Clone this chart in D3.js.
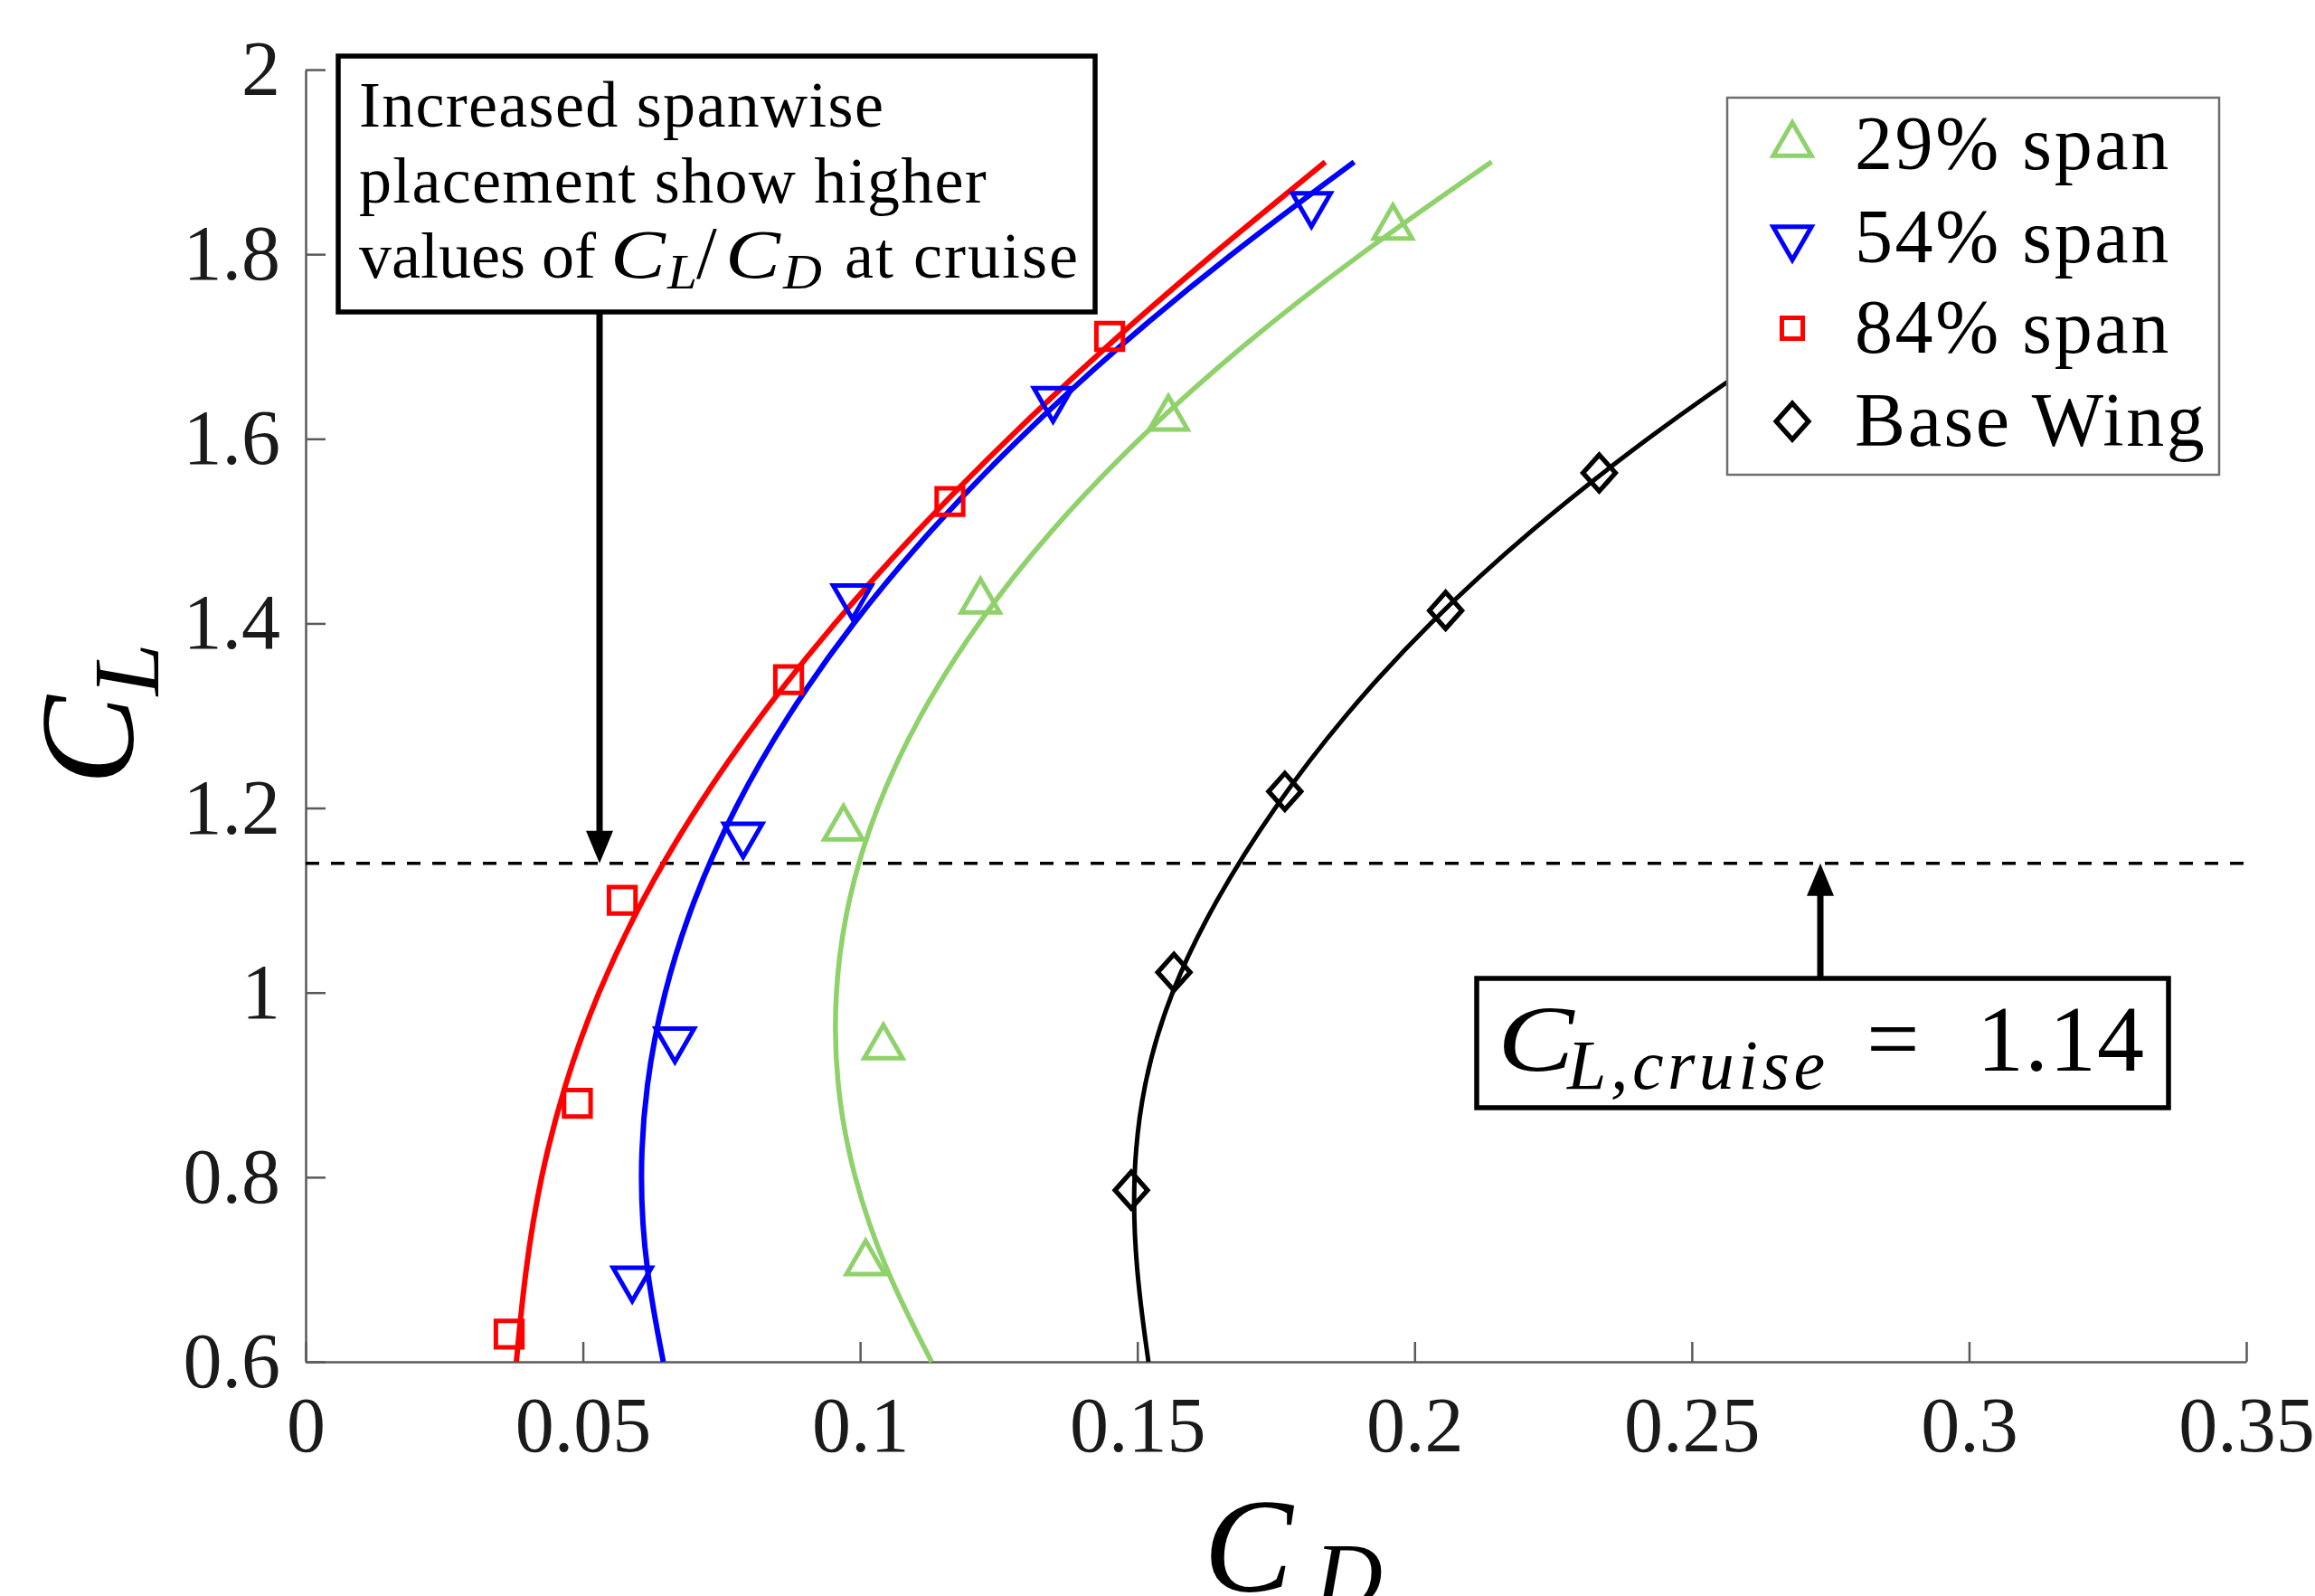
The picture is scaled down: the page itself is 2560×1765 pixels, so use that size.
<!DOCTYPE html>
<html><head><meta charset="utf-8">
<script src="https://cdn.jsdelivr.net/npm/d3@7"></script>
<style>html,body{margin:0;padding:0;background:#fff;} svg{display:block;}</style>
</head><body>
<svg id="chart" width="2560" height="1765"></svg>
<script>
// ---------------- data ----------------
const seriesNames = ["29% span", "54% span", "84% span", "Base Wing"];

// measured points (CD, CL)
const cd29 = [0.1010, 0.1042, 0.0970, 0.1217, 0.1556, 0.1961];
const cl29 = [0.707, 0.941, 1.178, 1.424, 1.622, 1.829];
const cd54 = [0.0589, 0.0666, 0.0789, 0.0986, 0.1348, 0.1814];
const cl54 = [0.690, 0.949, 1.171, 1.429, 1.643, 1.854];
const cd84 = [0.0367, 0.0490, 0.0571, 0.0871, 0.1162, 0.1450];
const cl84 = [0.630, 0.880, 1.100, 1.339, 1.532, 1.711];
const cdBase = [0.1489, 0.1566, 0.1766, 0.2056, 0.2333];
const clBase = [0.786, 1.022, 1.218, 1.414, 1.563];

// fitted curves at these CL values
const fitCL   = [0.6, 0.7, 0.8, 0.9, 1.0, 1.1, 1.2, 1.3, 1.4, 1.5, 1.6, 1.7, 1.8, 1.9];
const fit29   = [0.1129, 0.1044, 0.0987, 0.0956, 0.0953, 0.0976, 0.1027, 0.1105, 0.1210, 0.1341, 0.1500, 0.1686, 0.1899, 0.2139];
const fit54   = [0.0645, 0.0613, 0.0602, 0.0613, 0.0645, 0.0698, 0.0772, 0.0868, 0.0985, 0.1124, 0.1284, 0.1465, 0.1667, 0.1891];
const fit84   = [0.0380, 0.0396, 0.0423, 0.0466, 0.0526, 0.0605, 0.0703, 0.0819, 0.0952, 0.1101, 0.1265, 0.1443, 0.1635, 0.1839];
const fitBase = [0.1520, 0.1497, 0.1491, 0.1509, 0.1558, 0.1640, 0.1745, 0.1872, 0.2024, 0.2206, 0.2416, 0.2654, 0.2921, 0.3216];

const xTicks = [0, 0.05, 0.1, 0.15, 0.2, 0.25, 0.3, 0.35];
const xTickLabels = ["0", "0.05", "0.1", "0.15", "0.2", "0.25", "0.3", "0.35"];
const yTicks = [0.6, 0.8, 1.0, 1.2, 1.4, 1.6, 1.8, 2.0];
const yTickLabels = ["0.6", "0.8", "1", "1.2", "1.4", "1.6", "1.8", "2"];

const cruiseCL = 1.14;
const annotationLines = ["Increased spanwise", "placement show higher"];

// ---------------- drawing ----------------
const FONT = "'Liberation Serif', 'Times New Roman', serif";
const svg = d3.select("#chart");
const x = d3.scaleLinear().domain([0, 0.35]).range([338, 2484]);
const y = d3.scaleLinear().domain([0.6, 2.0]).range([1506, 77]);

const colors = {s29: "#8fd16b", s54: "#0000ff", s84: "#ff0000", base: "#000000"};

// axes
const axisColor = "#5a5a5a";
const gx = svg.append("g").attr("transform", `translate(0,${y(0.6)})`)
  .call(d3.axisBottom(x).tickValues(xTicks).tickFormat((d, i) => xTickLabels[i])
    .tickSizeInner(-22).tickSizeOuter(0).tickPadding(38));
const gy = svg.append("g").attr("transform", `translate(${x(0)},0)`)
  .call(d3.axisLeft(y).tickValues(yTicks).tickFormat((d, i) => yTickLabels[i])
    .tickSizeInner(-22).tickSizeOuter(0).tickPadding(28));
[gx, gy].forEach(g => {
  g.select(".domain").attr("stroke", axisColor).attr("stroke-width", 2.5);
  g.selectAll(".tick line").attr("stroke", axisColor).attr("stroke-width", 2.5);
  g.selectAll(".tick text").attr("fill", "#1a1a1a").style("font-family", FONT)
    .style("font-size", "86px");
});

// cruise dashed line
svg.append("line")
  .attr("x1", x(0)).attr("x2", x(0.35)).attr("y1", y(cruiseCL)).attr("y2", y(cruiseCL))
  .attr("stroke", "#000").attr("stroke-width", 3.5).attr("stroke-dasharray", "15,13");

// curves
const line = d3.line().x(d => x(d[0])).y(d => y(d[1])).curve(d3.curveBasis);
const curves = [
  {cd: fitBase, c: colors.base, w: 5},
  {cd: fit29, c: colors.s29, w: 5.5},
  {cd: fit54, c: colors.s54, w: 6},
  {cd: fit84, c: colors.s84, w: 6}
];
curves.forEach(cv => {
  svg.append("path").datum(cv.cd.map((v, i) => [v, fitCL[i]]))
    .attr("d", line).attr("fill", "none").attr("stroke", cv.c)
    .attr("stroke-width", cv.w).attr("stroke-linejoin", "round");
});

// markers
const diamondType = d3.symbolDiamond2 || d3.symbolSquare;
const diamondRot = d3.symbolDiamond2 ? 0 : 45;
const markerDefs = [
  {cd: cdBase, cl: clBase, c: colors.base, type: diamondType, size: 820, rot: diamondRot, sy: 1.12},
  {cd: cd29, cl: cl29, c: colors.s29, type: d3.symbolTriangle, size: 780, rot: 0, sy: 1},
  {cd: cd54, cl: cl54, c: colors.s54, type: d3.symbolTriangle, size: 780, rot: 180, sy: 1},
  {cd: cd84, cl: cl84, c: colors.s84, type: d3.symbolSquare, size: 860, rot: 0, sy: 1}
];
markerDefs.forEach(m => {
  svg.append("g").selectAll("path").data(m.cd.map((v, i) => [v, m.cl[i]])).join("path")
    .attr("d", d3.symbol().type(m.type).size(m.size))
    .attr("transform", d => `translate(${x(d[0])},${y(d[1])}) scale(1,${m.sy}) rotate(${m.rot})`)
    .attr("fill", "none").attr("stroke", m.c).attr("stroke-width", 5).attr("stroke-linejoin", "miter");
});

// legend
const lg = svg.append("g");
lg.append("rect").attr("x", 1910).attr("y", 108).attr("width", 544).attr("height", 417)
  .attr("fill", "#fff").attr("stroke", "#6e6e6e").attr("stroke-width", 2.5);
const legendOrder = [
  {name: seriesNames[0], m: markerDefs[1]},
  {name: seriesNames[1], m: markerDefs[2]},
  {name: seriesNames[2], m: markerDefs[3]},
  {name: seriesNames[3], m: markerDefs[0]}
];
const rowY = [160, 263, 363, 466];
legendOrder.forEach((e, i) => {
  lg.append("path").attr("d", d3.symbol().type(e.m.type).size(e.m.size * (e.m.type === d3.symbolSquare ? 0.62 : 1)))
    .attr("transform", `translate(1982,${rowY[i]}) scale(1,${e.m.sy}) rotate(${e.m.rot})`)
    .attr("fill", "none").attr("stroke", e.m.c).attr("stroke-width", 5);
  lg.append("text").attr("x", 2051).attr("y", rowY[i] + 27)
    .style("font-family", FONT).style("font-size", "84px").style("letter-spacing", "2.6px")
    .attr("fill", "#000").text(e.name);
});

// helper for a math-italic glyph, widened to resemble the TeX italic
function mathText(parent, str, px, py, size, sx) {
  return parent.append("text").attr("transform", `translate(${px},${py}) scale(${sx},1)`)
    .style("font-family", FONT).style("font-style", "italic").style("font-size", size + "px")
    .attr("fill", "#000").text(str);
}

// annotation box 1
const a1 = svg.append("g");
a1.append("rect").attr("x", 374).attr("y", 62).attr("width", 837).attr("height", 283)
  .attr("fill", "#fff").attr("stroke", "#000").attr("stroke-width", 5.5);
const annStyle = sel => sel.style("font-family", FONT).style("font-size", "72px")
  .style("letter-spacing", "1.3px").attr("fill", "#000");
a1.append("text").call(annStyle).attr("x", 397).attr("y", 140).text(annotationLines[0]);
a1.append("text").call(annStyle).attr("x", 397).attr("y", 224).text(annotationLines[1]);
a1.append("text").call(annStyle).style("letter-spacing", "0px").attr("x", 397).attr("y", 307).text("values of");
mathText(a1, "C", 675, 307, 76, 1.2);
mathText(a1, "L", 738, 319, 54, 1.1);
a1.append("text").attr("x", 770).attr("y", 307).style("font-family", FONT).style("font-size", "82px")
  .attr("fill", "#000").text("/");
mathText(a1, "C", 802, 307, 76, 1.2);
mathText(a1, "D", 866, 319, 54, 1.1);
a1.append("text").call(annStyle).style("letter-spacing", "2px").attr("x", 934).attr("y", 307).text("at cruise");

// arrow 1 (down to cruise line)
const arrowX1 = 663, tipY = y(cruiseCL);
svg.append("line").attr("x1", arrowX1).attr("x2", arrowX1).attr("y1", 345).attr("y2", tipY - 30)
  .attr("stroke", "#000").attr("stroke-width", 7);
svg.append("path").attr("d", `M${arrowX1 - 15},${tipY - 36} L${arrowX1 + 15},${tipY - 36} L${arrowX1},${tipY} Z`).attr("fill", "#000");

// arrow 2 (up to cruise line)
const arrowX2 = 2013;
svg.append("line").attr("x1", arrowX2).attr("x2", arrowX2).attr("y1", 1082).attr("y2", tipY + 30)
  .attr("stroke", "#000").attr("stroke-width", 7);
svg.append("path").attr("d", `M${arrowX2 - 15},${tipY + 36} L${arrowX2 + 15},${tipY + 36} L${arrowX2},${tipY} Z`).attr("fill", "#000");

// annotation box 2
const a2 = svg.append("g");
a2.append("rect").attr("x", 1633).attr("y", 1082).attr("width", 765).attr("height", 143)
  .attr("fill", "#fff").attr("stroke", "#000").attr("stroke-width", 5.5);
mathText(a2, "C", 1656, 1184, 104, 1.22);
a2.append("text").attr("x", 1733).attr("y", 1204).style("font-family", FONT).style("font-style", "italic")
  .style("font-size", "78px").style("letter-spacing", "4.5px").attr("fill", "#000").text("L,cruise");
a2.append("text").attr("x", 2064).attr("y", 1184).style("font-family", FONT).style("font-size", "104px")
  .attr("fill", "#000").text("=");
a2.append("text").attr("x", 2186).attr("y", 1184).style("font-family", FONT).style("font-size", "104px")
  .style("letter-spacing", "1px").attr("fill", "#000").text("1.14");

// axis labels
const yl = svg.append("text").attr("transform", "translate(147,868) rotate(-90)")
  .style("font-family", FONT).style("font-size", "148px").attr("fill", "#000");
yl.append("tspan").style("font-style", "italic").text("C");
yl.append("tspan").style("font-style", "italic").style("font-size", "104px").attr("dy", 28).text("L");

const xl = svg.append("text").attr("x", 1331).attr("y", 1760)
  .style("font-family", FONT).style("font-size", "148px").attr("fill", "#000");
xl.append("tspan").style("font-style", "italic").text("C");
xl.append("tspan").style("font-style", "italic").style("font-size", "104px").attr("dx", 24).attr("dy", 18).text("D");
</script>
</body></html>
